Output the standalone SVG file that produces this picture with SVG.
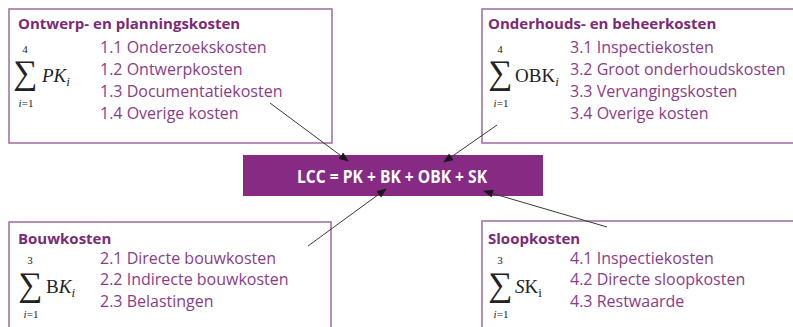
<svg xmlns="http://www.w3.org/2000/svg" width="793" height="327" viewBox="0 0 793 327">
  <style>
    .box { fill: #ffffff; stroke: #a373a3; stroke-width: 1.6; }
    .head { font-family: "Open Sans", "Liberation Sans", sans-serif; font-size: 15px; font-weight: bold; fill: #7a2a78; }
    .item { font-family: "Open Sans", "Liberation Sans", sans-serif; font-size: 16px; fill: #8a3c89; }
    .sum { font-family: "Liberation Serif", "DejaVu Serif", serif; font-size: 34px; fill: #222222; text-anchor: middle; }
    .lim { font-family: "Liberation Serif", "DejaVu Serif", serif; font-size: 11px; fill: #222222; text-anchor: middle; }
    .var { font-family: "Liberation Serif", "DejaVu Serif", serif; font-size: 19px; fill: #222222; }
    .sub { font-size: 13px; }
    .it { font-style: italic; }
    .conn { stroke: #3a3a3a; stroke-width: 1; fill: none; marker-end: url(#arrow); }
  </style>
  <defs>
    <marker id="arrow" markerUnits="userSpaceOnUse" markerWidth="10" markerHeight="8" refX="9" refY="4" orient="auto">
      <path d="M0,0 L10,4 L0,8 Z" fill="#1a1a1a"/>
    </marker>
  </defs>

  <rect width="793" height="327" fill="#ffffff"/>

  <!-- PK: design and planning costs -->
  <g id="node-pk">
    <rect class="box" x="9" y="9" width="323" height="134"/>
    <text class="head" x="18" y="29">Ontwerp- en planningskosten</text>
    <text class="lim" x="25" y="53">4</text>
    <text class="sum" x="25" y="84">∑</text>
    <text class="lim" x="26" y="107"><tspan class="it">i</tspan>=1</text>
    <text class="var it" x="42" y="82">PK<tspan class="sub" dy="4">i</tspan></text>
    <text class="item" x="100" y="52.5">1.1 Onderzoekskosten</text>
    <text class="item" x="100" y="74.5">1.2 Ontwerpkosten</text>
    <text class="item" x="100" y="96.5">1.3 Documentatiekosten</text>
    <text class="item" x="100" y="118.5">1.4 Overige kosten</text>
  </g>

  <!-- OBK: maintenance and management costs -->
  <g id="node-obk">
    <rect class="box" x="482" y="9" width="330" height="134"/>
    <text class="head" x="488" y="29">Onderhouds- en beheerkosten</text>
    <text class="lim" x="500" y="53">4</text>
    <text class="sum" x="500" y="84">∑</text>
    <text class="lim" x="501" y="107"><tspan class="it">i</tspan>=1</text>
    <text class="var" x="515" y="82">OBK<tspan class="sub it" dy="4">i</tspan></text>
    <text class="item" x="570" y="52.5">3.1 Inspectiekosten</text>
    <text class="item" x="570" y="74.5">3.2 Groot onderhoudskosten</text>
    <text class="item" x="570" y="96.5">3.3 Vervangingskosten</text>
    <text class="item" x="570" y="118.5">3.4 Overige kosten</text>
  </g>

  <!-- BK: construction costs -->
  <g id="node-bk">
    <rect class="box" x="9" y="222" width="322" height="120"/>
    <text class="head" x="18" y="244">Bouwkosten</text>
    <text class="lim" x="30" y="264">3</text>
    <text class="sum" x="30" y="296">∑</text>
    <text class="lim" x="31" y="318"><tspan class="it">i</tspan>=1</text>
    <text class="var" x="46" y="293">B<tspan class="it">K</tspan><tspan class="sub it" dy="4">i</tspan></text>
    <text class="item" x="100" y="263.5">2.1 Directe bouwkosten</text>
    <text class="item" x="100" y="285">2.2 Indirecte bouwkosten</text>
    <text class="item" x="100" y="306.5">2.3 Belastingen</text>
  </g>

  <!-- SK: demolition costs -->
  <g id="node-sk">
    <rect class="box" x="482" y="221" width="330" height="120"/>
    <text class="head" x="488" y="244">Sloopkosten</text>
    <text class="lim" x="500" y="264">3</text>
    <text class="sum" x="500" y="296">∑</text>
    <text class="lim" x="501" y="318"><tspan class="it">i</tspan>=1</text>
    <text class="var" x="515" y="293"><tspan class="it">S</tspan>K<tspan class="sub" dy="4">i</tspan></text>
    <text class="item" x="570" y="263.5">4.1 Inspectiekosten</text>
    <text class="item" x="570" y="285">4.2 Directe sloopkosten</text>
    <text class="item" x="570" y="306.5">4.3 Restwaarde</text>
  </g>

  <!-- LCC: total life-cycle cost -->
  <g id="node-lcc">
    <rect x="243" y="155" width="300" height="41" fill="#862a84"/>
    <text x="392" y="183" text-anchor="middle" textLength="190" lengthAdjust="spacingAndGlyphs" font-family="'Open Sans', 'Liberation Sans', sans-serif" font-size="17" font-weight="bold" fill="#ffffff">LCC = PK + BK + OBK + SK</text>
  </g>

  <g id="connectors">
    <line class="conn" x1="270" y1="103" x2="348" y2="161"/>
    <line class="conn" x1="497" y1="125" x2="444" y2="162"/>
    <line class="conn" x1="308" y1="246" x2="386" y2="189"/>
    <line class="conn" x1="607" y1="227" x2="484" y2="191"/>
  </g>
</svg>
